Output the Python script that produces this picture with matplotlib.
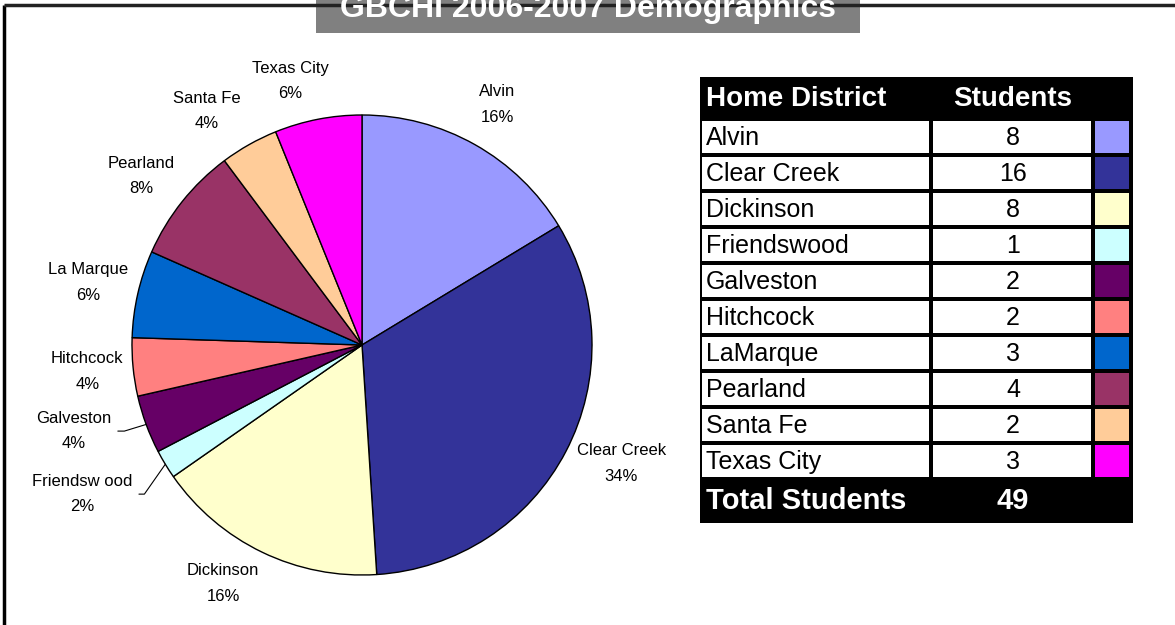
import numpy as np
import matplotlib
matplotlib.use("Agg")
import matplotlib.pyplot as plt
from matplotlib.patches import Rectangle

plt.rcParams['font.family'] = ['Liberation Sans', 'DejaVu Sans']

# data from the table
districts = ["Alvin", "Clear Creek", "Dickinson", "Friendswood", "Galveston",
             "Hitchcock", "LaMarque", "Pearland", "Santa Fe", "Texas City"]
students = [8, 16, 8, 1, 2, 2, 3, 4, 2, 3]
colors = ["#9999FF", "#333399", "#FFFFCC", "#CCFFFF", "#660066",
          "#FF8080", "#0066CC", "#993366", "#FFCC99", "#FF00FF"]

# labels as they appear on the pie
pie_names = ["Alvin", "Clear Creek", "Dickinson", "Friendsw ood", "Galveston",
             "Hitchcock", "La Marque", "Pearland", "Santa Fe", "Texas City"]
pie_pcts = ["16%", "34%", "16%", "2%", "4%", "4%", "6%", "8%", "4%", "6%"]

title = "GBCHI 2006-2007 Demographics"

W, H = 1175, 625
fig = plt.figure(figsize=(W / 100, H / 100), dpi=100, facecolor='white')

# background axes in pixel coordinates
bg = fig.add_axes([0, 0, 1, 1])
bg.set_xlim(0, W)
bg.set_ylim(H, 0)
bg.axis('off')

# frame (left and top edges visible)
bg.plot([4, 4], [5, H + 5], color='black', lw=2.5, solid_capstyle='butt')
bg.plot([4, W + 5], [5, 5], color='#222222', lw=2.5, solid_capstyle='butt')

# title box
bg.add_patch(Rectangle((316, -5), 544, 38, facecolor='#808080', edgecolor='none'))
bg.text(588, 17, title, color='white', fontsize=23, fontweight='bold',
        ha='center', va='baseline')

# pie
cx, cy, r = 362, 345, 230
ax = fig.add_axes([(cx - r) / W, (H - cy - r) / H, 2 * r / W, 2 * r / H])
wedges, _ = ax.pie(students, colors=colors, startangle=90, counterclock=False,
                   wedgeprops=dict(edgecolor='black', linewidth=1))
ax.set_xlim(-1, 1)
ax.set_ylim(-1, 1)
ax.set_aspect('equal')

# small nudges (distance, degrees) so labels sit like the original
nudge = {"Alvin": (1.20, 0), "Clear Creek": (1.24, 3), "Dickinson": (1.20, -4.5),
         "Hitchcock": (1.20, 0), "La Marque": (1.22, 0), "Pearland": (1.21, 1.2),
         "Santa Fe": (1.22, 4.2), "Texas City": (1.19, 4.1)}
# labels pulled out with leader lines
pulled = {"Galveston": (1.31, -3.6, 17), "Friendsw ood": (1.38, -3.2, 55)}

for w, name, pct in zip(wedges, pie_names, pie_pcts):
    mid = np.deg2rad((w.theta1 + w.theta2) / 2)
    label = name + "\n" + pct
    if name in pulled:
        dist, dang, angB = pulled[name]
        ang = mid + np.deg2rad(dang)
        ax.annotate(label, xy=(np.cos(mid), np.sin(mid)),
                    xytext=(dist * np.cos(ang), dist * np.sin(ang)),
                    ha='center', va='center', fontsize=12, linespacing=1.85,
                    arrowprops=dict(arrowstyle='-', color='black', lw=0.8,
                                    shrinkA=3, shrinkB=0,
                                    connectionstyle="angle,angleA=0,angleB=%d,rad=0" % angB))
    else:
        dist, dang = nudge.get(name, (1.21, 0))
        ang = mid + np.deg2rad(dang)
        ax.text(dist * np.cos(ang), dist * np.sin(ang), label,
                ha='center', va='center', fontsize=12, linespacing=1.85)

# table
tx0, tx1 = 700, 1133
ty0, ty1 = 77, 523
bg.add_patch(Rectangle((tx0, ty0), tx1 - tx0, ty1 - ty0, facecolor='black', edgecolor='none'))
bg.text(706, 99, "Home District", color='white', fontsize=20, fontweight='bold',
        ha='left', va='center')
bg.text(1013, 99, "Students", color='white', fontsize=20, fontweight='bold',
        ha='center', va='center')

row_top, pitch, row_h = 121, 36, 31.5
for i, (name, n, c) in enumerate(zip(districts, students, colors)):
    y = row_top + i * pitch
    bg.add_patch(Rectangle((702, y), 227, row_h, facecolor='white', edgecolor='none'))
    bg.add_patch(Rectangle((933, y), 158, row_h, facecolor='white', edgecolor='none'))
    bg.add_patch(Rectangle((1095, y), 34, row_h, facecolor=c, edgecolor='none'))
    bg.text(706, y + row_h / 2 + 1, name, fontsize=18, ha='left', va='center')
    bg.text(1013, y + row_h / 2 + 1, str(n), fontsize=18, ha='center', va='center')

bg.text(706, 501, "Total Students", color='white', fontsize=21, fontweight='bold',
        ha='left', va='center')
bg.text(1013, 501, str(sum(students)), color='white', fontsize=21, fontweight='bold',
        ha='center', va='center')

fig.savefig("out.png", dpi=100, facecolor='white')
